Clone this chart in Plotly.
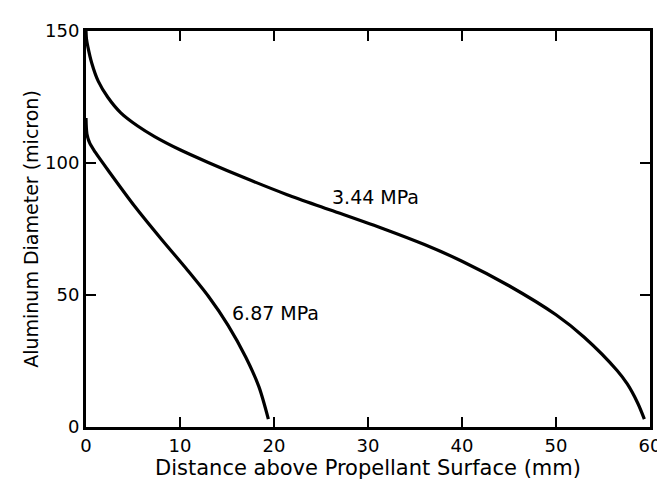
import plotly.graph_objects as go

# 3.44 MPa curve
x_344 = [0, 0.05, 0.2, 0.6, 1.3, 2.3, 3.7, 5.5, 7.3, 10, 13, 17, 21.4, 26, 31.7, 36, 40, 45, 50, 53, 56.5, 57.6, 58.7, 59.4]
y_344 = [150, 147, 144, 138, 131, 125, 119, 114, 110, 105, 100.2, 94.2, 88, 82.2, 75, 69.1, 62.8, 53.5, 42.5, 34, 21.4, 16.2, 9, 3]

# 6.87 MPa curve
x_687 = [0, 0.1, 0.4, 1.0, 2.5, 5.2, 8, 10.8, 13, 15.1, 17, 18.4, 19.4]
y_687 = [117, 111, 107.5, 104, 96.5, 83.5, 71.2, 59.4, 49.6, 38.6, 26.4, 15.2, 3]

labels = ["3.44 MPa", "6.87 MPa"]
label_x = [26.0, 15.3]
label_y = [87, 43]

x_ticks = [0, 10, 20, 30, 40, 50, 60]
y_ticks = [0, 50, 100, 150]

FONT = "DejaVu Sans"

fig = go.Figure()
fig.add_trace(go.Scatter(x=x_344, y=y_344, mode="lines", line=dict(color="black", width=3.2, shape="spline", smoothing=0.8)))
fig.add_trace(go.Scatter(x=x_687, y=y_687, mode="lines", line=dict(color="black", width=3.2, shape="spline", smoothing=0.8)))

for t, lx, ly in zip(labels, label_x, label_y):
    fig.add_annotation(x=lx, y=ly, text=t, showarrow=False, xanchor="left", yanchor="middle",
                       font=dict(family=FONT, size=19, color="black"))

axis_common = dict(showgrid=False, zeroline=False, showline=True, linecolor="black", linewidth=3,
                   mirror="ticks", ticks="inside", ticklen=10, tickwidth=1.5, tickcolor="black",
                   tickfont=dict(family=FONT, size=18, color="black"))

fig.update_xaxes(range=[0, 60], tickvals=x_ticks, **axis_common,
                 title=dict(text="Distance above Propellant Surface (mm)", font=dict(family=FONT, size=21, color="black"), standoff=2))
fig.update_yaxes(range=[0, 150], tickvals=y_ticks, **axis_common,
                 title=dict(text="Aluminum Diameter (micron)", font=dict(family=FONT, size=19, color="black"), standoff=2))

fig.update_layout(width=665, height=479, margin=dict(l=78, r=22, t=17, b=60),
                  plot_bgcolor="white", paper_bgcolor="white", showlegend=False)

fig.write_html("out.html")
